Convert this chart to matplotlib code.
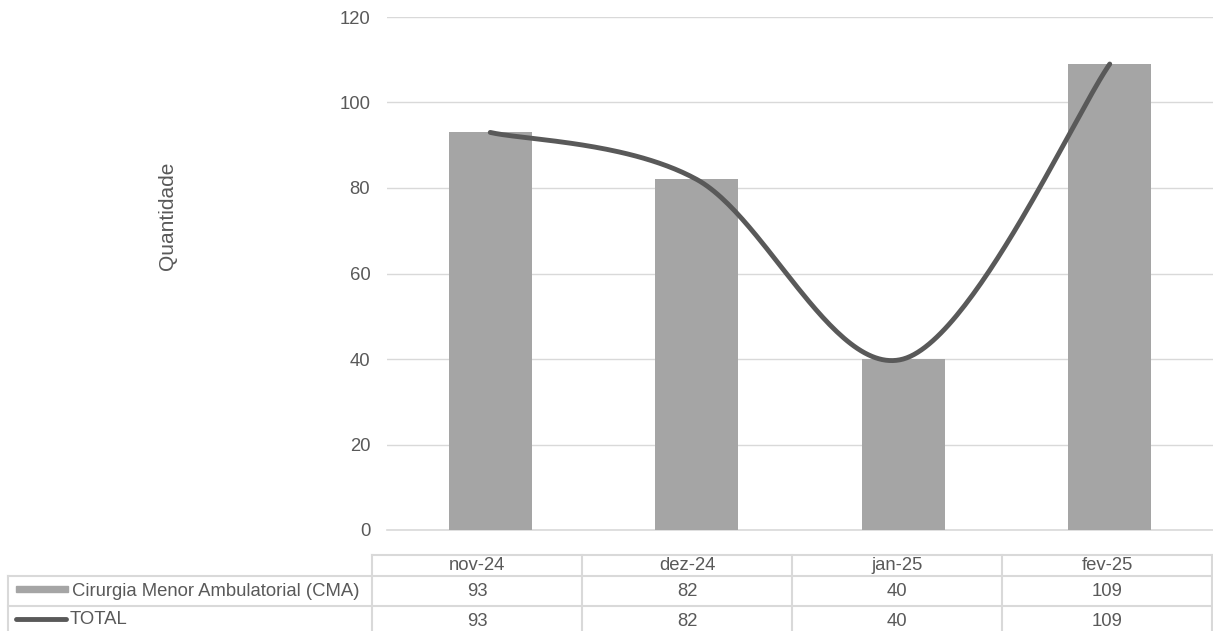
import numpy as np
import matplotlib.pyplot as plt
from matplotlib.lines import Line2D
from matplotlib.patches import Rectangle

plt.rcParams['font.family'] = ['Liberation Sans', 'DejaVu Sans']

meses = ['nov-24', 'dez-24', 'jan-25', 'fev-25']
cma = [93, 82, 40, 109]
total = [93, 82, 40, 109]
serie_bar = 'Cirurgia Menor Ambulatorial (CMA)'
serie_linha = 'TOTAL'

W, H = 1213, 631
cinza_txt = '#595959'
cinza_bar = '#A5A5A5'
cinza_grid = '#D9D9D9'
fs = 13.3

fig = plt.figure(figsize=(W / 100, H / 100), dpi=100)


def fx(x):
    return x / W


def fy(y):
    return 1 - y / H


ax = fig.add_axes([fx(387), fy(530), (1213 - 387) / W, (530 - 17) / H])
x = np.arange(len(meses))
ax.bar(x, cma, width=0.4, color=cinza_bar, zorder=2)


# curva suavizada tipo excel (bezier com pontos de controle catmull-rom)
def suaviza(xs, ys, n=60):
    pts = np.column_stack([xs, ys]).astype(float)
    out = []
    for i in range(len(pts) - 1):
        p0 = pts[i - 1] if i > 0 else pts[i]
        p1, p2 = pts[i], pts[i + 1]
        p3 = pts[i + 2] if i + 2 < len(pts) else pts[i + 1]
        c1 = p1 + (p2 - p0) / 6
        c2 = p2 - (p3 - p1) / 6
        t = np.linspace(0, 1, n)[:, None]
        seg = (1 - t) ** 3 * p1 + 3 * (1 - t) ** 2 * t * c1 + 3 * (1 - t) * t ** 2 * c2 + t ** 3 * p2
        out.append(seg)
    return np.vstack(out)


curva = suaviza(x, total)
ax.plot(curva[:, 0], curva[:, 1], color=cinza_txt, lw=3.5, solid_capstyle='round', zorder=3)

ax.set_xlim(-0.5, 3.5)
ax.set_ylim(0, 120)
ax.set_yticks(range(0, 121, 20))
ax.yaxis.grid(True, color=cinza_grid, lw=1)
ax.axhline(0, color=cinza_grid, lw=1.2, clip_on=False, zorder=1)
ax.set_axisbelow(True)
ax.set_xticks([])
for s in ax.spines.values():
    s.set_visible(False)
ax.tick_params(axis='y', length=0, pad=12, labelsize=fs, labelcolor=cinza_txt)

fig.text(fx(168), fy(216), 'Quantidade', rotation=90, ha='center', va='center',
         fontsize=15, color=cinza_txt)

# tabela de dados
col0 = 372
cw = 210
topo, r1, r2, base = 555, 576, 606, 636
lk = dict(color=cinza_grid, lw=1.5, transform=fig.transFigure, clip_on=False)
fig.add_artist(Line2D([fx(col0), fx(col0 + 4 * cw)], [fy(topo), fy(topo)], **lk))
for yy in (r1, r2):
    fig.add_artist(Line2D([fx(8), fx(col0 + 4 * cw)], [fy(yy), fy(yy)], **lk))
fig.add_artist(Line2D([fx(8), fx(8)], [fy(r1), fy(base)], **lk))
for i in range(5):
    xx = col0 + i * cw
    fig.add_artist(Line2D([fx(xx), fx(xx)], [fy(topo), fy(base)], **lk))

for i, m in enumerate(meses):
    cx = col0 + cw * (i + 0.5)
    fig.text(fx(cx), fy((topo + r1) / 2), m, ha='center', va='center', fontsize=fs, color=cinza_txt)
    fig.text(fx(cx), fy((r1 + r2) / 2), str(cma[i]), ha='center', va='center', fontsize=fs, color=cinza_txt)
    fig.text(fx(cx), fy(621), str(total[i]), ha='center', va='center', fontsize=fs, color=cinza_txt)

fig.add_artist(Rectangle((fx(16), fy(592)), fx(52), 6 / H, color=cinza_bar,
                         transform=fig.transFigure))
fig.text(fx(72), fy(591), serie_bar, ha='left', va='center', fontsize=fs, color=cinza_txt)
fig.add_artist(Line2D([fx(16), fx(66)], [fy(619), fy(619)], color=cinza_txt, lw=3.5,
                      solid_capstyle='round', transform=fig.transFigure))
fig.text(fx(70), fy(620), serie_linha, ha='left', va='center', fontsize=fs, color=cinza_txt)

fig.savefig('out.png', dpi=100)
